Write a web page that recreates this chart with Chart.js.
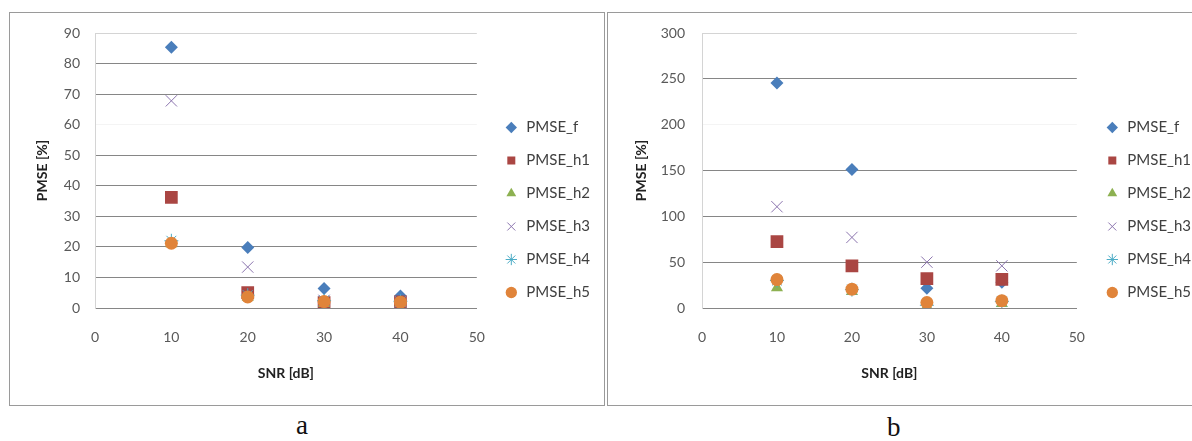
<!DOCTYPE html>
<html>
<head>
<meta charset="utf-8">
<script src="https://cdn.jsdelivr.net/npm/chart.js@4/dist/chart.umd.min.js"></script>
<style>
  html, body { margin: 0; padding: 0; background: #fff; }
  body { width: 1192px; height: 441px; position: relative; overflow: hidden; }
  .panel { position: absolute; border: 1.5px solid #9a9a9a; box-sizing: border-box; }
  canvas { position: absolute; }
  .cap { position: absolute; font-family: 'Liberation Serif', serif; font-size: 27px; color: #111; }
</style>
</head>
<body>
<div class="panel" style="left:9px; top:12px; width:596px; height:394px;"></div>
<div class="panel" style="left:607px; top:12px; width:600px; height:394px;"></div>
<canvas id="chartA" width="594" height="391" style="left:10px; top:13px;"></canvas>
<canvas id="chartB" width="610" height="391" style="left:609px; top:13px;"></canvas>
<div class="cap" style="left:296px; top:410px;">a</div>
<div class="cap" style="left:887px; top:412px;">b</div>
<script>
const snr = [10, 20, 30, 40];
const seriesNames = ['PMSE_f', 'PMSE_h1', 'PMSE_h2', 'PMSE_h3', 'PMSE_h4', 'PMSE_h5'];

// panel a
const aF = [85.3, 19.8, 6.4, 3.9];
const aH1 = [36.2, 5.0, 1.8, 2.0];
const aH2 = [21.0, 3.5, 1.5, 1.5];
const aH3 = [67.8, 13.4, 2.5, 2.0];
const aH4 = [22.0, 4.2, 2.4, 2.2];
const aH5 = [21.2, 3.6, 2.1, 1.9];

// panel b
const bF = [245.5, 151, 21.5, 28];
const bH1 = [72.5, 46, 32, 31.3];
const bH2 = [22, 18, 2, 5];
const bH3 = [110.5, 77, 50, 46];
const bH4 = [30, 20, 3, 7];
const bH5 = [31, 20.5, 6, 8];

const yTicksA = { max: 90, step: 10, faint: 60 };
const yTicksB = { max: 300, step: 50, faint: 200 };

const styles = [
  { pointStyle: 'rectRot', radius: 6.5, color: '#4A7EBB', fill: true },
  { pointStyle: 'rect', radius: 9, color: '#AA4643', fill: true },
  { pointStyle: 'triangle', radius: 7, color: '#8DB151', fill: true },
  { pointStyle: 'crossRot', radius: 8, color: '#8B74AE', fill: false },
  { pointStyle: 'star', radius: 7, color: '#4BACC6', fill: false },
  { pointStyle: 'circle', radius: 6.5, color: '#E0843A', fill: true },
];

const FONT = 'Lato';
const tickFont = { family: FONT, size: 14 };
const legendFont = { family: FONT, size: 15 };
const titleFont = { family: FONT, size: 14, weight: 'bold' };

function makeChart(id, series, yt, box) {
  const datasets = series.map((vals, i) => ({
    label: seriesNames[i],
    data: snr.map((x, j) => ({ x, y: vals[j] })),
    pointStyle: styles[i].pointStyle,
    pointRadius: styles[i].radius,
    backgroundColor: styles[i].fill ? styles[i].color : 'transparent',
    borderColor: styles[i].color,
    borderWidth: styles[i].fill ? 0 : 1,
    showLine: false,
    order: series.length - i,
  }));

  return new Chart(document.getElementById(id), {
    type: 'scatter',
    data: { datasets },
    options: {
      responsive: false,
      animation: false,
      layout: { padding: { top: 20, right: box.right, bottom: 17, left: 0 } },
      plugins: {
        tooltip: { enabled: false },
        legend: {
          position: 'right',
          maxWidth: 300,
          labels: {
            usePointStyle: true,
            boxHeight: 8,
            padding: 18,
            font: legendFont,
            color: '#404040',
            sort: (a, b) => a.datasetIndex - b.datasetIndex,
          },
        },
      },
      scales: {
        x: {
          type: 'linear',
          min: 0,
          max: 50,
          ticks: { stepSize: 10, padding: 13, font: tickFont, color: '#595959' },
          grid: { display: false },
          border: { color: '#868686' },
          title: { display: true, text: 'SNR [dB]', font: titleFont, color: '#222', padding: { top: 4, bottom: 5 } },
          afterFit: (s) => { s.height = 79; },
        },
        y: {
          min: 0,
          max: yt.max,
          ticks: { stepSize: yt.step, padding: 0, font: tickFont, color: '#595959' },
          grid: {
            drawTicks: true,
            tickLength: box.tickGap,
            tickColor: 'rgba(0,0,0,0)',
            color: (c) => {
              if (c.tick.value === yt.max) return '#d4d4d4';
              if (c.tick.value === yt.faint) return '#f4f4f4';
              return '#868686';
            },
          },
          border: { color: '#d4d4d4' },
          title: { display: true, text: 'PMSE [%]', font: titleFont, color: '#222', padding: { top: 24, bottom: 0 } },
          afterFit: (s) => { s.width = box.yWidth; },
        },
        gap: {
          type: 'linear',
          axis: 'y',
          position: 'right',
          display: true,
          grid: { display: false },
          border: { display: false },
          ticks: { display: false },
          afterFit: (s) => { s.width = box.legendGap; },
        },
      },
    },
  });
}

makeChart('chartA', [aF, aH1, aH2, aH3, aH4, aH5], yTicksA, { right: 4, yWidth: 85, tickGap: 15, legendGap: 9 });
makeChart('chartB', [bF, bH1, bH2, bH3, bH4, bH5], yTicksB, { right: 18, yWidth: 93, tickGap: 17, legendGap: 10 });
</script>
</body>
</html>
